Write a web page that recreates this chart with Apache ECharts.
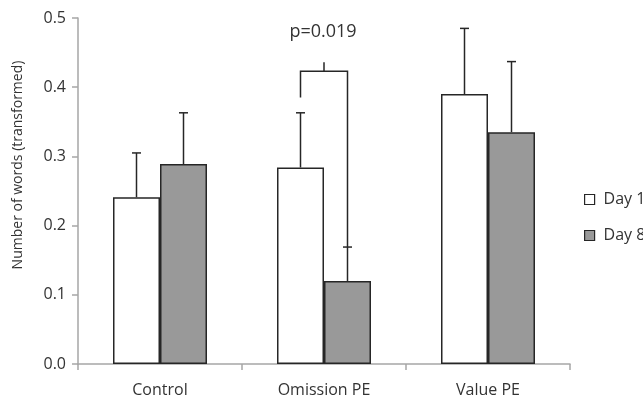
<!DOCTYPE html>
<html>
<head>
<meta charset="utf-8">
<script src="https://cdn.jsdelivr.net/npm/echarts@6/dist/echarts.min.js"></script>
<style>html,body{margin:0;padding:0;background:#fff}#c{width:643px;height:400px}</style>
</head>
<body>
<div id="c"></div>
<script>
// ---- data ----
const categories = ['Control', 'Omission PE', 'Value PE'];
const seriesNames = ['Day 1', 'Day 8'];
const day1 = [0.241, 0.284, 0.390];
const day8 = [0.289, 0.120, 0.335];
const day1ErrTop = [0.305, 0.363, 0.485];
const day8ErrTop = [0.363, 0.169, 0.437];
const yMin = 0, yMax = 0.5, yInterval = 0.1;
const yTitle = 'Number of words (transformed)';
// significance bracket (category index, value levels)
const bracketCategory = 1;
const bracketLeftBottom = 0.385;
const bracketTop = 0.423;
const bracketTickTop = 0.436;
const bracketRightBottom = 0.169;
const pText = 'p=0.019';
const pTextLevel = 0.480;

// ---- styles ----
const FONT = 'Open Sans';
const TXT = '#333';
const AXIS = '#a6a6a6';
const EDGE = '#262626';
const BAR_W = 47;

const chart = echarts.init(document.getElementById('c'), null, {renderer: 'canvas'});

function errRender(offsetSign) {
  return function (params, api) {
    const x = api.value(0);
    const p0 = api.coord([x, api.value(1)]);
    const p1 = api.coord([x, api.value(2)]);
    const cx = p0[0] + offsetSign * BAR_W / 2;
    const st = {stroke: EDGE, lineWidth: 1.5};
    return {
      type: 'group',
      children: [
        {type: 'line', shape: {x1: cx, y1: p0[1], x2: cx, y2: p1[1]}, style: st},
        {type: 'line', shape: {x1: cx - 4.5, y1: p1[1], x2: cx + 4.5, y2: p1[1]}, style: st}
      ]
    };
  };
}

function bracketRender(params, api) {
  const c = api.value(0);
  const lb = api.coord([c, bracketLeftBottom]);
  const tp = api.coord([c, bracketTop]);
  const tt = api.coord([c, bracketTickTop]);
  const rb = api.coord([c, bracketRightBottom]);
  const pt = api.coord([c, pTextLevel]);
  const lx = tp[0] - BAR_W / 2, rx = tp[0] + BAR_W / 2, mx = tp[0];
  const st = {stroke: EDGE, lineWidth: 1.5, fill: null};
  return {
    type: 'group',
    children: [
      {type: 'polyline', shape: {points: [[lx, lb[1]], [lx, tp[1]], [rx, tp[1]], [rx, rb[1]]]}, style: st},
      {type: 'line', shape: {x1: mx, y1: tp[1], x2: mx, y2: tt[1]}, style: st},
      {type: 'text', x: mx - 1, y: pt[1], style: {text: pText, fill: TXT, font: '18px "' + FONT + '"', align: 'center', verticalAlign: 'middle'}}
    ]
  };
}

const option = {
  animation: false,
  textStyle: {fontFamily: FONT},
  grid: {left: 78, right: 73, top: 18, bottom: 36, containLabel: false},
  legend: {
    orient: 'vertical',
    left: 579,
    top: 186.5,
    itemWidth: 10,
    itemHeight: 10,
    itemGap: 20,
    icon: 'rect',
    selectedMode: false,
    textStyle: {fontFamily: FONT, fontSize: 16, color: TXT, lineHeight: 16, padding: [0, 0, 0, 4]},
    data: [
      {name: seriesNames[0], itemStyle: {color: '#fff', borderColor: EDGE, borderWidth: 1.2}},
      {name: seriesNames[1], itemStyle: {color: '#999', borderColor: EDGE, borderWidth: 1.2}}
    ]
  },
  xAxis: {
    type: 'category',
    data: categories,
    axisLine: {lineStyle: {color: AXIS, width: 1.5}},
    axisTick: {show: true, length: 6, lineStyle: {color: AXIS, width: 1.5}},
    axisLabel: {color: TXT, fontSize: 16, fontFamily: FONT, margin: 18}
  },
  yAxis: {
    type: 'value',
    min: yMin, max: yMax, interval: yInterval,
    splitLine: {show: false},
    axisLine: {show: true, lineStyle: {color: AXIS, width: 1.5}},
    axisTick: {show: true, length: 6, lineStyle: {color: AXIS, width: 1.5}},
    axisLabel: {color: TXT, fontSize: 16, fontFamily: FONT, margin: 12, formatter: v => v.toFixed(1)}
  },
  graphic: [{
    type: 'text', x: 18, y: 165, rotation: Math.PI / 2,
    style: {text: yTitle, fill: TXT, font: '14px "' + FONT + '"', align: 'center', verticalAlign: 'middle'}
  }],
  series: [
    {name: seriesNames[0], type: 'bar', data: day1, barWidth: BAR_W, barGap: '0%',
     itemStyle: {color: '#fff', borderColor: EDGE, borderWidth: 1.5}},
    {name: seriesNames[1], type: 'bar', data: day8, barWidth: BAR_W, barGap: '0%',
     itemStyle: {color: '#999', borderColor: EDGE, borderWidth: 1.5}},
    {type: 'custom', name: 'err1', z: 5, renderItem: errRender(-1),
     data: categories.map((c, i) => [i, day1[i], day1ErrTop[i]])},
    {type: 'custom', name: 'err8', z: 5, renderItem: errRender(1),
     data: categories.map((c, i) => [i, day8[i], day8ErrTop[i]])},
    {type: 'custom', name: 'bracket', z: 5, renderItem: bracketRender, clip: false,
     data: [[bracketCategory]]}
  ]
};
chart.setOption(option);
</script>
</body>
</html>
